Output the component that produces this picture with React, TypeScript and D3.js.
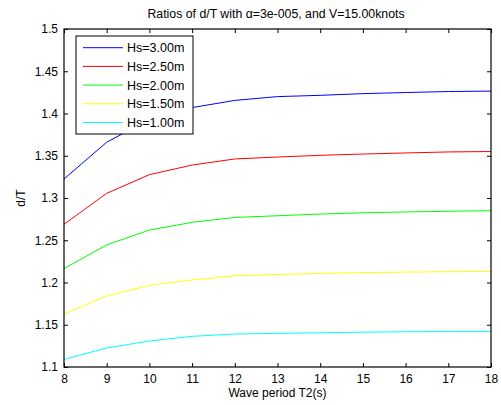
import { useEffect, useRef } from "react";
import * as d3 from "d3";

const WIDTH = 501;
const HEIGHT = 405;
const MARGIN = { top: 29, right: 10, bottom: 38, left: 64 };

const periods = [8, 9, 10, 11, 12, 13, 14, 15, 16, 17, 18];
const hs300 = [1.3225, 1.366, 1.393, 1.407, 1.4155, 1.42, 1.4215, 1.4235, 1.4248, 1.426, 1.4265];
const hs250 = [1.2689, 1.3055, 1.3276, 1.339, 1.3462, 1.3485, 1.3505, 1.352, 1.3533, 1.3545, 1.355];
const hs200 = [1.2165, 1.2444, 1.2621, 1.2712, 1.277, 1.279, 1.281, 1.2825, 1.2835, 1.2843, 1.285];
const hs150 = [1.1627, 1.184, 1.1967, 1.203, 1.208, 1.2095, 1.2107, 1.2117, 1.2123, 1.2128, 1.2131];
const hs100 = [1.109, 1.1225, 1.1308, 1.1363, 1.139, 1.1398, 1.1405, 1.1412, 1.1417, 1.142, 1.1421];

const seriesNames = ["Hs=3.00m", "Hs=2.50m", "Hs=2.00m", "Hs=1.50m", "Hs=1.00m"];
const seriesValues = [hs300, hs250, hs200, hs150, hs100];
const seriesColors = ["#0000ff", "#ff0000", "#00ff00", "#ffff00", "#00ffff"];

const yTicks = [1.1, 1.15, 1.2, 1.25, 1.3, 1.35, 1.4, 1.45, 1.5];
const yTickLabels = ["1.1", "1.15", "1.2", "1.25", "1.3", "1.35", "1.4", "1.45", "1.5"];

const FONT = "Liberation Sans, Arial, sans-serif";

export default function App() {
  const ref = useRef<SVGSVGElement>(null);

  useEffect(() => {
    const svg = d3.select(ref.current);
    svg.selectAll("*").remove();

    const boundsWidth = WIDTH - MARGIN.left - MARGIN.right;
    const boundsHeight = HEIGHT - MARGIN.top - MARGIN.bottom;

    const x = d3.scaleLinear().domain([8, 18]).range([0, boundsWidth]);
    const y = d3.scaleLinear().domain([1.1, 1.5]).range([boundsHeight, 0]);

    svg.append("rect").attr("width", WIDTH).attr("height", HEIGHT).attr("fill", "#fff");

    const g = svg.append("g").attr("transform", `translate(${MARGIN.left},${MARGIN.top})`);

    // lines
    const line = d3
      .line<number>()
      .x((_, i) => x(periods[i]))
      .y((d) => y(d));
    seriesValues.forEach((vals, i) => {
      g.append("path")
        .datum(vals)
        .attr("fill", "none")
        .attr("stroke", seriesColors[i])
        .attr("stroke-width", 1)
        .attr("d", line);
    });

    // axes (ticks pointing inward, on all four sides)
    const styleAxis = (sel: any) => {
      sel.select(".domain").remove();
      sel.selectAll("line").attr("stroke", "#000");
      sel.selectAll("text").attr("font-family", FONT).attr("font-size", 12).attr("fill", "#000");
    };

    g.append("g")
      .attr("transform", `translate(0,${boundsHeight})`)
      .call(d3.axisBottom(x).tickValues(periods).tickSize(-4).tickPadding(7).tickFormat(d3.format("d")))
      .call(styleAxis);
    g.append("g")
      .call(d3.axisTop(x).tickValues(periods).tickSize(-4).tickFormat(() => ""))
      .call(styleAxis);
    g.append("g")
      .call(
        d3
          .axisLeft(y)
          .tickValues(yTicks)
          .tickSize(-4)
          .tickPadding(6)
          .tickFormat((_, i) => yTickLabels[i])
      )
      .call(styleAxis);
    g.append("g")
      .attr("transform", `translate(${boundsWidth},0)`)
      .call(d3.axisRight(y).tickValues(yTicks).tickSize(-4).tickFormat(() => ""))
      .call(styleAxis);

    g.append("rect")
      .attr("width", boundsWidth)
      .attr("height", boundsHeight)
      .attr("fill", "none")
      .attr("stroke", "#000")
      .attr("stroke-width", 1.2);

    // legend
    const legend = g.append("g").attr("transform", "translate(12,7)");
    legend
      .append("rect")
      .attr("width", 117)
      .attr("height", 98)
      .attr("fill", "#fff")
      .attr("stroke", "#000")
      .attr("stroke-width", 1);
    seriesNames.forEach((name, i) => {
      const ly = 11.7 + i * 18.7;
      legend
        .append("line")
        .attr("x1", 7)
        .attr("x2", 47)
        .attr("y1", ly)
        .attr("y2", ly)
        .attr("stroke", seriesColors[i])
        .attr("stroke-width", 1);
      legend
        .append("text")
        .attr("x", 51)
        .attr("y", ly + 4.5)
        .attr("font-family", FONT)
        .attr("font-size", 12.5)
        .text(name);
    });

    // title and labels
    svg
      .append("text")
      .attr("x", 276)
      .attr("y", 18)
      .attr("text-anchor", "middle")
      .attr("font-family", FONT)
      .attr("font-size", 12.3)
      .text("Ratios of d/T with α=3e-005, and V=15.00knots");

    svg
      .append("text")
      .attr("x", MARGIN.left + boundsWidth / 2)
      .attr("y", 397)
      .attr("text-anchor", "middle")
      .attr("font-family", FONT)
      .attr("font-size", 12)
      .text("Wave period T2(s)");

    svg
      .append("text")
      .attr("transform", `translate(25,${MARGIN.top + boundsHeight / 2}) rotate(-90)`)
      .attr("text-anchor", "middle")
      .attr("font-family", FONT)
      .attr("font-size", 12)
      .text("d/T");
  }, []);

  return (
    <svg
      ref={ref}
      width={WIDTH}
      height={HEIGHT}
      style={{ position: "absolute", left: 0, top: 0 }}
    />
  );
}
